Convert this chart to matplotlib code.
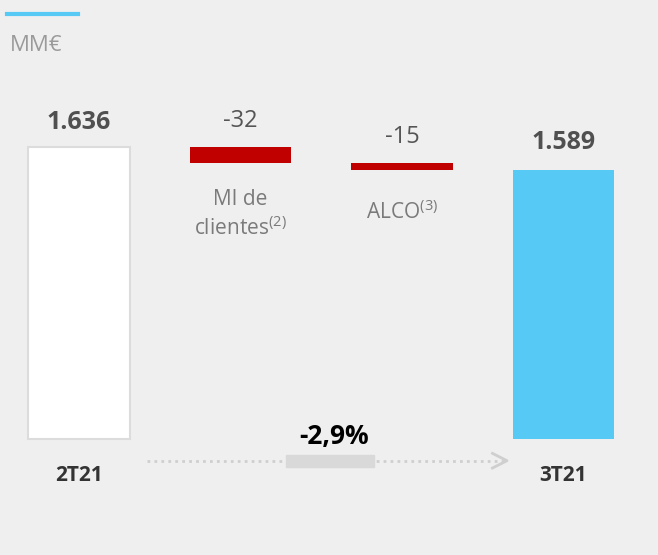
import matplotlib
matplotlib.use('Agg')
import matplotlib.pyplot as plt
from matplotlib.patches import Rectangle
import numpy as np

plt.rcParams.update({
    'font.family': ['Open Sans', 'DejaVu Sans'],
    'mathtext.fontset': 'custom',
    'mathtext.rm': 'Open Sans',
})

# data
steps = ['2T21', 'MI de\nclientes', 'ALCO', '3T21']
start_val = 1636
deltas = [-32, -15]
end_val = 1589
change_pct = '-2,9%'
unit = 'MM€'
axis_floor = 1040   # broken axis: bars start here

bg = '#efefef'
fig = plt.figure(figsize=(6.58, 5.55), dpi=100, facecolor=bg)
ax = fig.add_axes([0, 0, 1, 1])
ax.set_facecolor(bg)
ax.set_xlim(-0.489, 3.585)
ax.set_ylim(802.3, 1936.4)
ax.axis('off')

w = 0.63
# totals
ax.bar(0, start_val - axis_floor, bottom=axis_floor, width=w, color='white',
       edgecolor='#dcdcdc', linewidth=1.5)
ax.bar(3, end_val - axis_floor, bottom=axis_floor, width=w, color='#56caf5')

# deltas
level = start_val
for i, d in enumerate(deltas):
    ax.bar(i + 1, d, bottom=level, width=w, color='#c00000')
    level += d

# value labels
ax.annotate(f'{start_val/1000:.3f}', (0, start_val), xytext=(0, 9), textcoords='offset points',
            ha='center', va='bottom', fontsize=18, fontweight='bold', color='#505050')
ax.annotate(f'{end_val/1000:.3f}', (3, end_val), xytext=(0, 11), textcoords='offset points',
            ha='center', va='bottom', fontsize=18, fontweight='bold', color='#505050')
level = start_val
for i, d in enumerate(deltas):
    ax.annotate(f'{d}', (i + 1, level), xytext=(0, 10), textcoords='offset points',
                ha='center', va='bottom', fontsize=17, color='#555555')
    level += d

# category labels under the delta bars
ax.annotate('MI de\nclientes$^{\\mathregular{(2)}}$', (1, start_val + deltas[0]), xytext=(0, -19),
            textcoords='offset points', ha='center', va='top', fontsize=15, color='#7a7a7a',
            linespacing=1.35)
ax.annotate('ALCO$^{\\mathregular{(3)}}$', (2, start_val + sum(deltas)), xytext=(0, -22),
            textcoords='offset points', ha='center', va='top', fontsize=15, color='#7a7a7a')

# bottom category labels
ax.annotate(steps[0], (0, axis_floor), xytext=(0, -19), textcoords='offset points',
            ha='center', va='top', fontsize=15, fontweight='bold', color='#333333')
ax.annotate(steps[3], (3, axis_floor), xytext=(0, -19), textcoords='offset points',
            ha='center', va='top', fontsize=15, fontweight='bold', color='#333333')

# dotted arrow with change
yl = axis_floor - 45
ax.plot([0.42, 2.65], [yl, yl], ls=(0, (1, 1.5)), color='#cfcfcf', lw=2)
ax.plot([2.56, 2.65, 2.56], [yl + 15, yl, yl - 15], color='#cfcfcf', lw=2)
ax.add_patch(Rectangle((1.28, yl - 12), 0.545, 24, color='#d9d9d9', zorder=3))
ax.text(1.58, yl + 22, change_pct, ha='center', va='bottom', fontsize=19,
        fontweight='bold', color='black')

# header
fig.add_artist(plt.Line2D([7 / 658, 78 / 658], [1 - 14 / 555] * 2, color='#56caf5', lw=3))
fig.text(10 / 658, 1 - 45 / 555, unit, ha='left', va='center', fontsize=16, color='#9a9a9a')

fig.savefig('out.png', dpi=100, facecolor=bg)
